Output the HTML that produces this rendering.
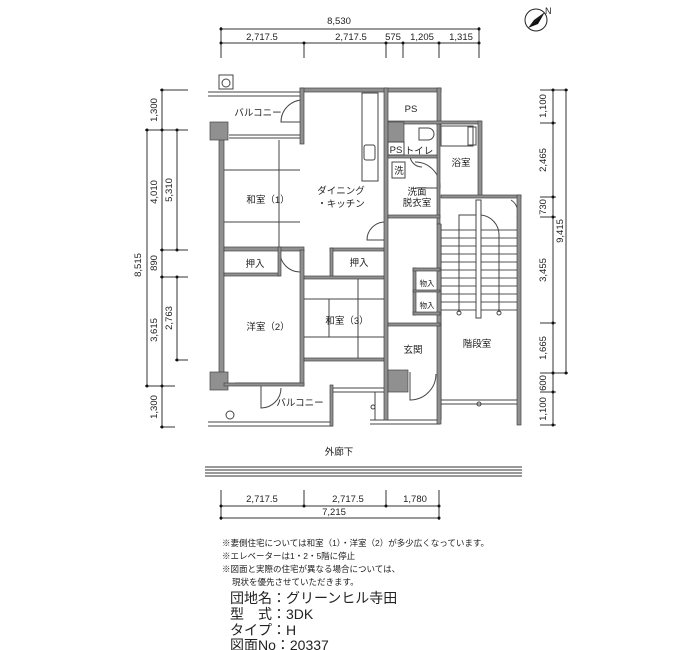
<!DOCTYPE html>
<html><head><meta charset="utf-8"><style>
body{margin:0;background:#fff}
svg{display:block}
text{font-family:"Liberation Sans","Noto Sans CJK JP",sans-serif;fill:#222}
</style></head><body>
<svg width="700" height="650" viewBox="0 0 700 650" xmlns="http://www.w3.org/2000/svg">
<g stroke="#333" stroke-width="1" fill="none">
<line x1="221" y1="29" x2="479" y2="29"/>
<line x1="221" y1="43" x2="479" y2="43"/>
<line x1="221" y1="27" x2="221" y2="58"/><line x1="479" y1="27" x2="479" y2="58"/>
<line x1="304" y1="43" x2="304" y2="58"/><line x1="386" y1="43" x2="386" y2="58"/>
<line x1="403" y1="43" x2="403" y2="58"/><line x1="439" y1="43" x2="439" y2="58"/>
<line x1="147" y1="130" x2="147" y2="386"/>
<line x1="162" y1="90" x2="162" y2="427"/>
<line x1="177" y1="130" x2="177" y2="250"/>
<line x1="177" y1="277" x2="177" y2="360"/>
<line x1="145" y1="130" x2="188" y2="130"/><line x1="145" y1="386" x2="175" y2="386"/>
<line x1="160" y1="90" x2="188" y2="90"/><line x1="160" y1="250" x2="188" y2="250"/>
<line x1="160" y1="277" x2="188" y2="277"/><line x1="160" y1="427" x2="175" y2="427"/>
<line x1="175" y1="360" x2="188" y2="360"/>
<line x1="553" y1="90" x2="553" y2="425"/>
<line x1="566" y1="90" x2="566" y2="373"/>
<line x1="540" y1="90" x2="568" y2="90"/><line x1="540" y1="373" x2="568" y2="373"/>
<line x1="540" y1="123" x2="556" y2="123"/><line x1="540" y1="197" x2="556" y2="197"/>
<line x1="540" y1="217" x2="556" y2="217"/><line x1="540" y1="323" x2="556" y2="323"/>
<line x1="540" y1="392" x2="556" y2="392"/><line x1="540" y1="425" x2="556" y2="425"/>
<line x1="221" y1="506" x2="439" y2="506"/><line x1="221" y1="518" x2="439" y2="518"/>
<line x1="221" y1="490" x2="221" y2="520"/><line x1="304" y1="490" x2="304" y2="506"/>
<line x1="386" y1="490" x2="386" y2="506"/><line x1="439" y1="490" x2="439" y2="520"/>
<line x1="205" y1="467" x2="522" y2="467"/><line x1="205" y1="470" x2="522" y2="470"/>
<line x1="205" y1="473" x2="522" y2="473"/><line x1="205" y1="476" x2="522" y2="476"/>
</g>
<g fill="#111">
<circle cx="221" cy="29" r="1.5"/><circle cx="479" cy="29" r="1.5"/>
<circle cx="221" cy="43" r="1.5"/><circle cx="304" cy="43" r="1.5"/><circle cx="386" cy="43" r="1.5"/><circle cx="403" cy="43" r="1.5"/><circle cx="439" cy="43" r="1.5"/><circle cx="479" cy="43" r="1.5"/>
<circle cx="147" cy="130" r="1.5"/><circle cx="147" cy="386" r="1.5"/>
<circle cx="162" cy="90" r="1.5"/><circle cx="162" cy="130" r="1.5"/><circle cx="162" cy="250" r="1.5"/><circle cx="162" cy="277" r="1.5"/><circle cx="162" cy="386" r="1.5"/><circle cx="162" cy="427" r="1.5"/>
<circle cx="177" cy="130" r="1.5"/><circle cx="177" cy="250" r="1.5"/><circle cx="177" cy="277" r="1.5"/><circle cx="177" cy="360" r="1.5"/>
<circle cx="553" cy="90" r="1.5"/><circle cx="553" cy="123" r="1.5"/><circle cx="553" cy="197" r="1.5"/><circle cx="553" cy="217" r="1.5"/><circle cx="553" cy="323" r="1.5"/><circle cx="553" cy="373" r="1.5"/><circle cx="553" cy="392" r="1.5"/><circle cx="553" cy="425" r="1.5"/>
<circle cx="566" cy="90" r="1.5"/><circle cx="566" cy="373" r="1.5"/>
<circle cx="221" cy="506" r="1.5"/><circle cx="304" cy="506" r="1.5"/><circle cx="386" cy="506" r="1.5"/><circle cx="439" cy="506" r="1.5"/>
<circle cx="221" cy="518" r="1.5"/><circle cx="439" cy="518" r="1.5"/>
</g>
<circle cx="536" cy="20" r="11" fill="#fff" stroke="#222"/>
<polygon points="528,28 545,12 534,20" fill="#111"/>
<polygon points="528,28 545,12 538,24" fill="#111"/>
<text x="545" y="14" font-size="9">N</text>

<g stroke="#444" stroke-width="1" fill="none">
<line x1="208" y1="92" x2="303" y2="92"/><line x1="208" y1="96" x2="303" y2="96"/>
<rect x="219" y="75" width="14" height="14"/><circle cx="226" cy="83" r="4"/>
<line x1="208" y1="422" x2="333" y2="422"/><line x1="208" y1="426" x2="333" y2="426"/>
<circle cx="230" cy="415" r="4"/>
<line x1="229" y1="135" x2="303" y2="135"/><line x1="229" y1="138" x2="303" y2="138"/>
<line x1="235" y1="383" x2="303" y2="383"/>
<line x1="223" y1="170" x2="300" y2="170"/><line x1="223" y1="222" x2="300" y2="222"/><line x1="279" y1="140" x2="279" y2="250"/>
<line x1="303" y1="299" x2="385" y2="299"/><line x1="303" y1="337" x2="385" y2="337"/><line x1="358" y1="278" x2="358" y2="360"/><line x1="329" y1="299" x2="329" y2="337"/>
<rect x="362" y="93" width="16" height="88"/><rect x="364" y="145" width="11" height="15" rx="2"/>
<path d="M303 100 A22 22 0 0 0 281 122 L303 122"/>
<path d="M385 222 A18 18 0 0 0 367 240 L385 240"/>
<path d="M280 252 A20 20 0 0 0 300 272"/>
<path d="M410 372 L410 400 A26 26 0 0 0 436 374"/>
<path d="M261 385 L261 408 A20 20 0 0 0 281 388"/>
<path d="M415 162 A25 25 0 0 1 440 188 L415 188"/>
<path d="M511 200 A15 15 0 0 1 517 218"/>
<rect x="441" y="126" width="32" height="20"/><rect x="468" y="127" width="8" height="18"/>
<path d="M419 128 L428 128 A6 6 0 0 1 428 140 L419 140 Z"/>
<path d="M410 155 A12 12 0 0 0 422 167"/>
<rect x="392" y="162" width="13" height="16"/>
<g stroke="#555">
<line x1="441" y1="230" x2="517" y2="230"/><line x1="441" y1="238" x2="517" y2="238"/>
<line x1="441" y1="246" x2="517" y2="246"/><line x1="441" y1="254" x2="517" y2="254"/>
<line x1="441" y1="262" x2="517" y2="262"/><line x1="441" y1="270" x2="517" y2="270"/>
<line x1="441" y1="278" x2="517" y2="278"/><line x1="441" y1="286" x2="517" y2="286"/>
<line x1="441" y1="294" x2="517" y2="294"/><line x1="441" y1="302" x2="517" y2="302"/>
<line x1="441" y1="310" x2="517" y2="310"/>
</g>
<rect x="476" y="200" width="5" height="118" fill="#fff"/>
<path d="M459 312 L459 215 L476 215"/>
<path d="M499 312 L499 235 A20 20 0 0 0 481 215"/>
<circle cx="459" cy="313" r="2"/><circle cx="499" cy="313" r="2"/>
<line x1="441" y1="400" x2="517" y2="400"/><line x1="441" y1="404" x2="517" y2="404"/>
<circle cx="479" cy="404" r="2"/>
<line x1="333" y1="388" x2="385" y2="388"/><line x1="333" y1="392" x2="385" y2="392"/>
<line x1="370" y1="420" x2="440" y2="420"/><line x1="370" y1="424" x2="440" y2="424"/>
<line x1="375" y1="392" x2="375" y2="420"/><circle cx="373" cy="407" r="2"/>
<line x1="441" y1="224" x2="441" y2="420"/>
</g>

<g fill="#909090" stroke="#444" stroke-width="0.7">
<rect x="300" y="88" width="141" height="4"/>
<rect x="300" y="88" width="4" height="56"/>
<rect x="219" y="138" width="5" height="250"/>
<rect x="210" y="122" width="18" height="18"/>
<rect x="210" y="372" width="18" height="18"/>
<rect x="224" y="247" width="80" height="4"/>
<rect x="224" y="273" width="56" height="3"/>
<rect x="278" y="247" width="3" height="29"/>
<rect x="300" y="250" width="4" height="136"/>
<rect x="224" y="383" width="80" height="3"/>
<rect x="330" y="248" width="57" height="3"/>
<rect x="330" y="248" width="3" height="30"/>
<rect x="304" y="276" width="82" height="3"/>
<rect x="304" y="358" width="82" height="3"/>
<rect x="384" y="88" width="4" height="332"/>
<rect x="437" y="88" width="4" height="37"/>
<rect x="388" y="121" width="93" height="3"/>
<rect x="478" y="121" width="4" height="76"/>
<rect x="388" y="122" width="16" height="20"/>
<rect x="388" y="155" width="50" height="3"/>
<rect x="437" y="124" width="3" height="100"/>
<rect x="388" y="215" width="52" height="3"/>
<rect x="441" y="195" width="80" height="3"/>
<rect x="517" y="195" width="4" height="230"/>
<rect x="437" y="224" width="4" height="200"/>
<rect x="388" y="323" width="52" height="3"/>
<rect x="388" y="370" width="20" height="22"/>
<rect x="413" y="268" width="3" height="47"/>
<rect x="413" y="268" width="27" height="3"/>
<rect x="413" y="312" width="27" height="3"/>
<rect x="413" y="290" width="27" height="2"/>
<rect x="330" y="385" width="3" height="41"/>
</g>
<rect x="388" y="142" width="16" height="13" fill="#fff" stroke="#444"/>

<g font-size="9.5" text-anchor="middle">
<text x="339" y="24">8,530</text>
<text x="262" y="40">2,717.5</text><text x="351" y="40">2,717.5</text>
<text x="393" y="40">575</text><text x="422" y="40">1,205</text><text x="461" y="40">1,315</text>
<text x="262" y="502">2,717.5</text><text x="348" y="502">2,717.5</text><text x="415" y="502">1,780</text>
<text x="334" y="515">7,215</text>
</g>
<g font-size="9.5" text-anchor="middle">
<text transform="translate(141,265) rotate(-90)">8,515</text>
<text transform="translate(157,110) rotate(-90)">1,300</text>
<text transform="translate(157,192) rotate(-90)">4,010</text>
<text transform="translate(157,263) rotate(-90)">890</text>
<text transform="translate(157,330) rotate(-90)">3,615</text>
<text transform="translate(157,407) rotate(-90)">1,300</text>
<text transform="translate(172,190) rotate(-90)">5,310</text>
<text transform="translate(172,318) rotate(-90)">2,763</text>
<text transform="translate(546,106) rotate(-90)">1,100</text>
<text transform="translate(546,160) rotate(-90)">2,465</text>
<text transform="translate(546,207) rotate(-90)">730</text>
<text transform="translate(546,270) rotate(-90)">3,455</text>
<text transform="translate(546,348) rotate(-90)">1,665</text>
<text transform="translate(546,383) rotate(-90)">600</text>
<text transform="translate(546,409) rotate(-90)">1,100</text>
<text transform="translate(563,231) rotate(-90)">9,415</text>
</g>
<g font-size="9.5" text-anchor="middle">
<text x="268" y="203">和室（1）</text>
<text x="341" y="194">ダイニング</text><text x="341" y="207">・キッチン</text>
<text x="255" y="267">押入</text><text x="359" y="266">押入</text>
<text x="268" y="330">洋室（2）</text><text x="347" y="324">和室（3）</text>
<text x="413" y="353">玄関</text><text x="477" y="347">階段室</text>
<text x="461" y="166">浴室</text><text x="411" y="112">PS</text>
<text x="396" y="153">PS</text><text x="419" y="154">トイレ</text>
<text x="399" y="174">洗</text><text x="417" y="195">洗面</text><text x="417" y="206">脱衣室</text>
<text x="258" y="116">バルコニー</text><text x="300" y="406">バルコニー</text>
<text x="339" y="455">外廊下</text>
</g>
<text x="427" y="286" font-size="7.5" text-anchor="middle">物入</text>
<text x="427" y="308" font-size="7.5" text-anchor="middle">物入</text>
<g font-size="8.5">
<text x="222" y="546">※妻側住宅については和室（1）・洋室（2）が多少広くなっています。</text>
<text x="222" y="559">※エレベーターは1・2・5階に停止</text>
<text x="222" y="572">※図面と実際の住宅が異なる場合については、</text>
<text x="232" y="585">現状を優先させていただきます。</text>
</g>
<g font-size="14">
<text x="230" y="603">団地名：グリーンヒル寺田</text>
<text x="230" y="619">型　式：3DK</text>
<text x="230" y="635">タイプ：H</text>
<text x="230" y="650">図面No：20337</text>
</g>
</svg>
</body></html>
